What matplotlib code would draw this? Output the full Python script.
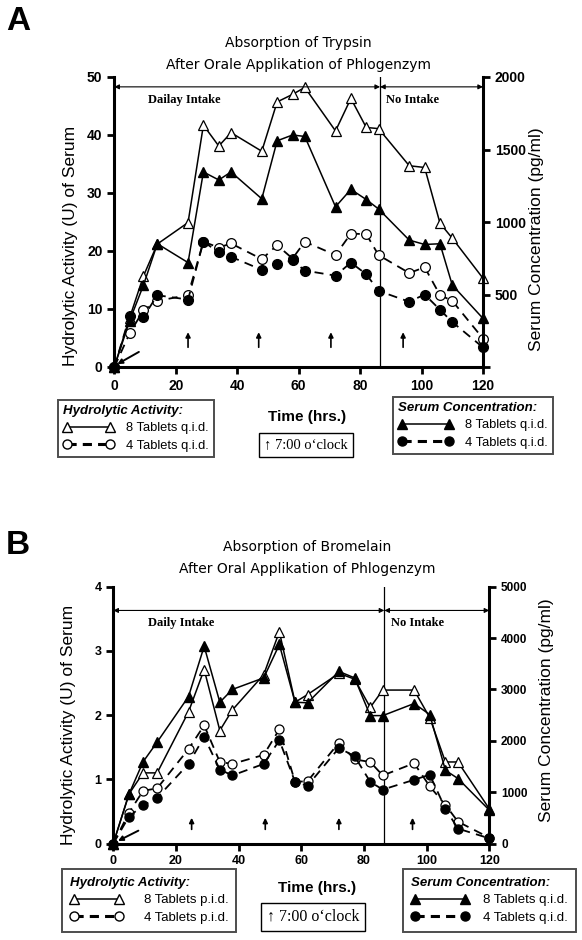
import matplotlib
matplotlib.use("Agg")
import matplotlib.pyplot as plt
from matplotlib.lines import Line2D

plt.rcParams["font.family"] = ["Liberation Sans", "DejaVu Sans"]

# sampling times (hrs.)
hours = [0, 5, 9.5, 14, 24, 29, 34, 38, 48, 53, 58, 62, 72, 77, 82, 86, 96, 101, 106, 110, 120]
stop_intake = 86.5

# --- A: trypsin --------------------------------------------------------
tryp_act_8 = [0, 8.5, 15.7, 21.2, 24.9, 41.7, 38.1, 40.4, 37.2, 45.7, 47.0, 48.2,
              40.7, 46.3, 41.3, 41.1, 34.7, 34.4, 24.8, 22.2, 15.3]
tryp_act_4 = [0, 5.8, 9.8, 11.4, 12.4, 21.6, 20.6, 21.3, 18.6, 21.0, 18.7, 21.6,
              19.3, 23.0, 22.9, 19.3, 16.2, 17.2, 12.4, 11.4, 4.9]
tryp_ser_8 = [0, 320, 565, 850, 720, 1345, 1290, 1345, 1160, 1560, 1600, 1590,
              1105, 1225, 1155, 1090, 875, 845, 850, 565, 335]
tryp_ser_4 = [0, 350, 345, 495, 465, 865, 790, 760, 670, 710, 735, 665,
              630, 720, 640, 525, 450, 500, 395, 310, 135]
tryp_clock = [24, 47, 70.5, 94]

# --- B: bromelain ------------------------------------------------------
brom_act_8 = [0, 0.77, 1.1, 1.1, 2.05, 2.71, 1.76, 2.08, 2.63, 3.3, 2.2, 2.32,
              2.65, 2.56, 2.12, 2.39, 2.39, 1.96, 1.27, 1.27, 0.54]
brom_act_4 = [0, 0.48, 0.82, 0.86, 1.47, 1.84, 1.27, 1.24, 1.38, 1.78, 0.96, 0.97,
              1.57, 1.31, 1.27, 1.06, 1.25, 0.89, 0.6, 0.34, 0.09]
brom_ser_8 = [0, 960, 1590, 1975, 2860, 3840, 2750, 3000, 3225, 3875, 2750, 2740,
              3350, 3225, 2490, 2490, 2725, 2510, 1425, 1265, 650]
brom_ser_4 = [0, 525, 740, 890, 1550, 2075, 1440, 1325, 1550, 2010, 1200, 1125,
              1860, 1700, 1200, 1050, 1240, 1340, 675, 290, 100]
brom_clock = [25, 48.5, 72, 95.5]

DASH = (0, (5, 3.5))
W, H = 582, 940

fig = plt.figure(figsize=(W / 100, H / 100), dpi=100)


def px(x, y):
    return x / W, 1 - y / H


def panel(rect, title, title_xy, act8, act4, ser8, ser4, act_ticks, ser_ticks, ser_labels,
          clock, clock_y, span_y, intake, intake_y, o_arrow, tick_size, rtick_size, ms,
          lab_left, lab_right, lab_time):
    ax = fig.add_axes(rect)
    ax2 = ax.twinx()

    ax.plot(hours, act8, color="k", lw=1.1, marker="^", ms=ms, mfc="white", mec="k",
            mew=0.9, clip_on=False, zorder=3)
    ax.plot(hours, act4, color="k", lw=1.3, ls=DASH, marker="o", ms=ms, mfc="white",
            mec="k", mew=0.9, clip_on=False, zorder=3)
    ax2.plot(hours, ser8, color="k", lw=1.1, marker="^", ms=ms, mfc="k", mec="k",
             clip_on=False)
    ax2.plot(hours, ser4, color="k", lw=1.3, ls=DASH, marker="o", ms=ms, mfc="k",
             mec="k", clip_on=False)

    ax.set_xlim(0, 120)
    ax.set_ylim(act_ticks[0], act_ticks[-1])
    ax2.set_ylim(ser_ticks[0], ser_ticks[-1])
    ax.set_xticks(range(0, 121, 20))
    ax.set_yticks(act_ticks)
    ax2.set_yticks(ser_ticks, ser_labels)

    ax.axvline(stop_intake, color="k", lw=0.9)

    # intake periods
    arrow = dict(arrowstyle="<|-|>", color="k", lw=0.8, mutation_scale=7,
                 shrinkA=0, shrinkB=0)
    ax.annotate("", xy=(0, span_y), xytext=(stop_intake, span_y), arrowprops=arrow)
    ax.annotate("", xy=(stop_intake, span_y), xytext=(120, span_y), arrowprops=arrow)
    ax.text(11, intake_y, intake, family="Liberation Serif", weight="bold", size=9,
            va="center")
    ax.text(88.5, intake_y, "No Intake", family="Liberation Serif", weight="bold",
            size=9, va="center")

    # 7:00 o'clock marks
    for c in clock:
        ax.annotate("", xy=(c, clock_y[1]), xytext=(c, clock_y[0]),
                    arrowprops=dict(arrowstyle="-|>", color="k", lw=1.2,
                                    mutation_scale=7, shrinkA=0, shrinkB=0))
    ax.annotate("", xy=o_arrow[0], xytext=o_arrow[1],
                arrowprops=dict(arrowstyle="-|>", color="k", lw=1.4,
                                mutation_scale=7, shrinkA=0, shrinkB=0))

    for s in ["top", "right"]:
        ax.spines[s].set_visible(False)
    for s in ["top", "left", "bottom"]:
        ax2.spines[s].set_visible(False)
    for s in ["left", "bottom"]:
        ax.spines[s].set_linewidth(2.2)
    ax2.spines["right"].set_linewidth(2.2)
    ax.tick_params(direction="out", length=5, width=2, labelsize=tick_size)
    ax2.tick_params(direction="out", length=5, width=2, labelsize=rtick_size)
    for lbl in ax.get_xticklabels() + ax.get_yticklabels() + ax2.get_yticklabels():
        lbl.set_fontweight("bold")

    ax.set_ylabel("Hydrolytic Activity (U) of Serum", size=12.5, va="center")
    ax.yaxis.set_label_coords(*lab_left)
    ax2.set_ylabel("Serum Concentration (pg/ml)", size=12.5, va="center", rotation=90)
    ax2.yaxis.set_label_coords(*lab_right)
    ax.set_xlabel("Time (hrs.)", size=11, weight="bold", va="center")
    ax.xaxis.set_label_coords(*lab_time)

    fig.text(*title_xy, title, family="DejaVu Sans", size=10, ha="center", va="center",
             linespacing=1.75)
    return ax


panel([114.3 / W, 1 - 367 / H, 368.7 / W, 290 / H],
      "Absorption of Trypsin\nAfter Orale Applikation of Phlogenzym", px(298, 54),
      tryp_act_8, tryp_act_4, tryp_ser_8, tryp_ser_4,
      [0, 10, 20, 30, 40, 50], [0, 500, 1000, 1500, 2000], ["", "500", "1000", "1500", "2000"],
      tryp_clock, (3.4, 6.0), 48.3, "Dailay Intake", 46.1, ((1, 0.5), (8, 2.6)),
      10, 10, 7, (-0.12, 0.417), (1.146, 0.441), (0.523, -0.172))

panel([113.3 / W, 1 - 843.5 / H, 376 / W, 256.8 / H],
      "Absorption of Bromelain\nAfter Oral Applikation of Phlogenzym", px(307, 558),
      brom_act_8, brom_act_4, brom_ser_8, brom_ser_4,
      [0, 1, 2, 3, 4], [0, 1000, 2000, 3000, 4000, 5000],
      ["0", "1000", "2000", "3000", "4000", "5000"],
      brom_clock, (0.22, 0.40), 3.63, "Daily Intake", 3.43, ((1.5, 0.04), (8, 0.2)),
      9, 8.5, 6.5, (-0.12, 0.461), (1.151, 0.52), (0.542, -0.173))

fig.text(*px(6, 22), "A", size=24, weight="bold", va="center")
fig.text(*px(6, 545), "B", size=24, weight="bold", va="center")


def legend(anchor, title, labels, filled, hlen, fsize, tpad, bpad):
    face = "k" if filled else "white"
    handles = [Line2D([], [], color="k", lw=1.1, marker="^", ms=6.5, mfc=face, mec="k"),
               Line2D([], [], color="k", lw=2.2, ls=(0, (3, 2)), marker="o", ms=6.5,
                      mfc=face, mec="k")]
    leg = fig.legend(handles, labels, loc="upper left", bbox_to_anchor=px(*anchor),
                     numpoints=2, handlelength=hlen, handletextpad=tpad, fontsize=fsize,
                     title=title, alignment="left",
                     title_fontproperties={"weight": "bold", "style": "italic", "size": 9.5},
                     fancybox=False, edgecolor="0.3", framealpha=1, borderaxespad=0,
                     borderpad=bpad, labelspacing=0.4)
    leg.get_frame().set_linewidth(1.4)


legend((58, 400), "Hydrolytic Activity:", ["8 Tablets q.i.d.", "4 Tablets q.i.d."],
       False, 3.9, 9.3, 1.0, 0.4)
legend((393, 397), "Serum Concentration:", ["8 Tablets q.i.d.", "4 Tablets q.i.d."],
       True, 4.2, 9.3, 1.0, 0.4)
legend((62, 869), "Hydrolytic Activity:", ["8 Tablets p.i.d.", "4 Tablets p.i.d."],
       False, 4.0, 9.5, 1.6, 0.6)
legend((403, 869), "Serum Concentration:", ["8 Tablets q.i.d.", "4 Tablets q.i.d."],
       True, 4.4, 9.5, 1.1, 0.6)

box = dict(boxstyle="square,pad=0.35", fc="white", ec="k", lw=1.0)
fig.text(*px(306, 445), "↑ 7:00 o‘clock", family=["Liberation Serif", "DejaVu Sans"],
         size=10.5, ha="center", va="center", bbox=box)
fig.text(*px(313, 917), "↑ 7:00 o‘clock", family=["Liberation Serif", "DejaVu Sans"],
         size=11.5, ha="center", va="center", bbox=box)

fig.savefig("out.png", dpi=100)
